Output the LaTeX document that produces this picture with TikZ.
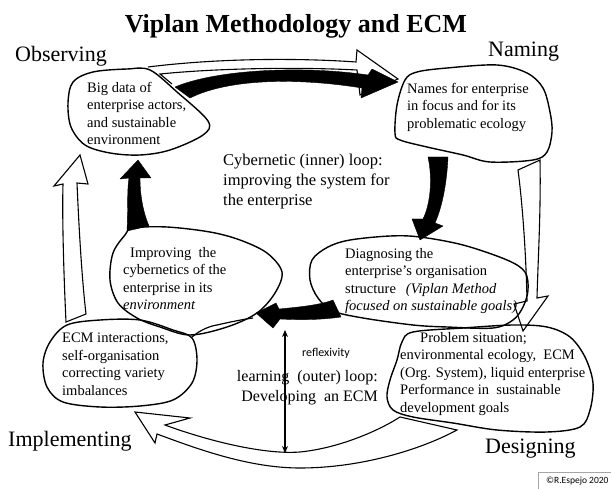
\documentclass[tikz,border=0pt]{standalone}
\usepackage{fontspec}
\setmainfont{Liberation Serif}
\newfontfamily\calib{Carlito}
\usetikzlibrary{arrows.meta}
\begin{document}
\begin{tikzpicture}[x=1pt,y=-1pt,
  blob/.style={draw, line width=1.4pt, line join=round},
  solidarr/.style={fill=black, draw=black, line width=0.4pt, line join=round},
  hollowarr/.style={draw=black, fill=white, line width=1.1pt, line join=miter},
  txt/.style={inner sep=0pt, align=left, font=\fontsize{14.5}{17.5}\selectfont},
  stage/.style={inner sep=0pt, anchor=base west, font=\fontsize{22}{26}\selectfont}]
\useasboundingbox (0,0) rectangle (611,489);
\fill[white] (0,0) rectangle (611,489);

% ---------- hollow (outer loop) arrows ----------
\path[hollowarr] (148,67) .. controls (220,58) and (300,58) .. (356,62) -- (357,50) -- (398,79) -- (360,95) -- (357,70)
   .. controls (300,67) and (220,68) .. (160,74) -- (172,84);
\path[hollowarr] (518,170) -- (540,160) .. controls (541,210) and (538,260) .. (537,298) -- (548,296) -- (523,331) -- (514,304) -- (527,301)
   .. controls (526,250) and (522,200) .. (518,170) -- cycle;
\path[hollowarr] (135,412) -- (190,418) -- (165,425) .. controls (200,438) and (260,455) .. (300,452)
   .. controls (340,448) and (380,430) .. (400,417) -- (457,430)
   .. controls (420,450) and (360,468) .. (300,468) .. controls (250,468) and (200,450) .. (157,434) -- (155,443) -- cycle;
\path[hollowarr] (66,322) .. controls (64,280) and (62,220) .. (63,184) -- (54,186) -- (80,155) -- (88,184) -- (77,183)
   .. controls (79,230) and (82,280) .. (86,314) -- cycle;

% ---------- blobs ----------
\draw[blob] plot[smooth cycle, tension=0.55] coordinates {(68,103) (73,82) (93,72) (127,69) (150,70) (177,92) (208,121) (203,135) (170,150) (140,155) (110,153) (85,145) (71,127)};
\draw[blob] plot[smooth cycle, tension=0.55] coordinates {(417,72) (447,68) (497,65) (527,73) (543,88) (550,112) (552,132) (547,152) (533,160) (490,162) (463,155) (427,147) (400,140) (395,133) (397,105) (405,80)};
\draw[blob] plot[smooth cycle, tension=0.55] coordinates {(133,228) (167,227) (210,232) (240,240) (267,253) (282,272) (275,293) (257,313) (227,327) (190,335) (160,327) (137,318) (118,303) (110,280) (113,253) (125,235)};
\draw[blob] plot[smooth cycle, tension=0.55] coordinates {(350,240) (390,236) (420,237) (463,245) (507,260) (525,272) (528,290) (523,307) (513,320) (493,328) (447,327) (413,325) (363,318) (333,311) (318,298) (310,280) (312,260) (328,247)};
\draw[blob] plot[smooth cycle, tension=0.55] coordinates {(413,332) (463,328) (513,325) (547,327) (570,337) (585,357) (593,383) (590,410) (580,427) (547,432) (497,430) (453,423) (413,417) (393,410) (387,397) (390,380) (397,360) (402,342)};
\draw[blob] plot[smooth cycle, tension=0.55] coordinates {(67,325) (100,320) (140,320) (173,330) (192,338) (197,360) (192,383) (173,400) (140,406) (100,407) (63,402) (47,387) (43,363) (50,342)};
\draw[blob, line width=1.2pt] (192,337) .. controls (200,330) and (210,326) .. (217,325) .. controls (230,322) and (245,319) .. (253,318);

% ---------- black (inner loop) arrows ----------
\path[solidarr] (175,87) .. controls (215,70) and (300,65) .. (368,75) -- (372,69) -- (398,82) -- (361,98) -- (362,88)
   .. controls (300,78) and (230,78) .. (190,98) -- cycle;
\path[solidarr] (428,157) .. controls (433,180) and (430,205) .. (423,219) -- (412,219) -- (420,240) -- (443,226) -- (435,223)
   .. controls (443,205) and (447,180) .. (448,157) -- cycle;
\path[solidarr] (256,313) -- (276,303) -- (279,309) .. controls (300,307) and (320,305) .. (333,300) -- (341,317)
   .. controls (320,320) and (300,320) .. (280,319) -- (273,328) -- cycle;
\path[solidarr] (127,231) .. controls (128,210) and (127,190) .. (129,178) -- (120,179) -- (138,160) -- (151,178) -- (140,178)
   .. controls (140,195) and (143,212) .. (149,226) -- cycle;

% reflexivity arrow
\coordinate (rtop) at (285,330);
\coordinate (rbot) at (285,453);
\draw[line width=1.6pt, {Stealth[length=7pt,width=6pt]}-{Stealth[length=7pt,width=6pt]}] (rtop) -- (rbot);

% ---------- texts ----------
\node[inner sep=0pt, anchor=base, font=\bfseries\fontsize{26}{30}\selectfont] (title) at (296,33) {Viplan Methodology and ECM};
\node[stage] (obs) at (15,62) {Observing};
\node[stage] (nam) at (488,57) {Naming};
\node[stage] (imp) at (8,446) {Implementing};
\node[stage] (des) at (485,453) {Designing};

\node[txt, anchor=north west] (bigdata) at (87,82) {Big data of\\enterprise actors,\\and sustainable\\environment};
\node[txt, anchor=north west] (names) at (407,83) {Names for enterprise\\in focus and for its\\problematic ecology};
\node[inner sep=0pt, align=left, anchor=north west, font=\fontsize{16.5}{20}\selectfont] (inner) at (223,154) {Cybernetic (inner) loop:\\improving the system for\\the enterprise};
\node[txt, anchor=north west] (improving) at (123,247) {\hspace*{7pt}Improving\ \ the\\cybernetics of the\\enterprise in its\\\textit{environment}};
\node[txt, anchor=north west] (diag) at (345,248) {Diagnosing the\\enterprise’s organisation\\structure\hspace{10pt}\textit{(Viplan Method}\\\textit{focused on sustainable goals)}};
\node[txt, anchor=north west] (ecm) at (62,333) {ECM interactions,\\self-organisation\\correcting variety\\imbalances};
\node[txt, anchor=north west] (prob) at (400,332) {\hspace*{20pt}Problem situation;\\environmental ecology,\ \ ECM\\(Org. System), liquid enterprise\\Performance in\ \ sustainable\\development goals};
\node[inner sep=0pt, align=right, anchor=north east, font=\fontsize{16}{20}\selectfont] (outer) at (378,370) {learning\ \ (outer) loop:\\Developing\ \ an ECM};
\node[inner sep=0pt, anchor=base west, font=\calib\fontsize{12}{14}\selectfont] (refl) at (302,356) {reflexivity};

\draw[gray!70, line width=0.6pt] (538,472) rectangle (616,495);
\node[inner sep=0pt, anchor=base west, font=\calib\fontsize{9.5}{11}\selectfont] (copy) at (546,483) {©R.Espejo 2020};
\end{tikzpicture}
\end{document}
